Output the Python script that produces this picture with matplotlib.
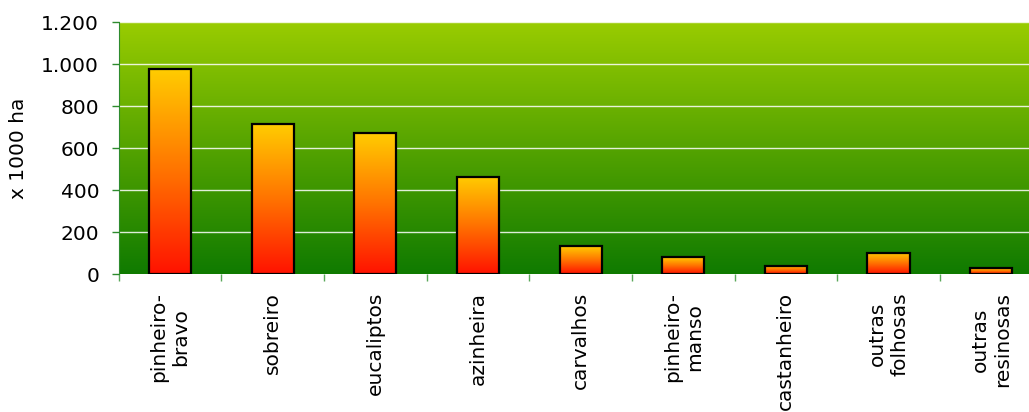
import numpy as np
import matplotlib
matplotlib.use("Agg")
import matplotlib.pyplot as plt
from matplotlib.colors import LinearSegmentedColormap

categories = ["pinheiro-\nbravo", "sobreiro", "eucaliptos", "azinheira", "carvalhos",
              "pinheiro-\nmanso", "castanheiro", "outras\nfolhosas", "outras\nresinosas"]
values = [976, 714, 671, 462, 133, 80, 40, 101, 27]
yticks = [0, 200, 400, 600, 800, 1000, 1200]
ytick_labels = ["0", "200", "400", "600", "800", "1.000", "1.200"]
ylabel = "x 1000 ha"

W, H = 1029, 412
fig = plt.figure(figsize=(W / 100, H / 100), dpi=100)
left, right, top, bottom = 118.6, 1042.5, 22, 274
ax = fig.add_axes([left / W, (H - bottom) / H, (right - left) / W, (bottom - top) / H])

n = len(categories)

# background gradient
bg = LinearSegmentedColormap.from_list("bg", [(0.06, 0.48, 0.0), (0.6, 0.8, 0.0)])
grad = np.linspace(0, 1, 256).reshape(-1, 1)
ax.imshow(grad, cmap=bg, origin="lower", aspect="auto",
          extent=(-0.5, n - 0.5, 0, 1200), zorder=0)

# grid
for yv in yticks[1:]:
    ax.axhline(yv, color="white", lw=1.0, alpha=0.85, zorder=1)

# bars with gradient
bc = LinearSegmentedColormap.from_list("bars", [(1.0, 0.07, 0.0), (1.0, 0.45, 0.0), (1.0, 0.8, 0.0)])
x = np.arange(n)
bw = 0.41
bars = ax.bar(x, values, width=bw, facecolor="none", edgecolor="black", linewidth=1.6, zorder=3)
for b in bars:
    x0, y0 = b.get_x(), b.get_y()
    im = ax.imshow(grad, cmap=bc, origin="lower", aspect="auto",
                   extent=(x0, x0 + b.get_width(), y0, y0 + b.get_height()), zorder=2)
    im.set_clip_path(b)
ax.set_xlim(-0.5, n - 0.5)
ax.set_ylim(0, 1200)

# spines
for s in ["top", "right"]:
    ax.spines[s].set_visible(False)
ax.spines["left"].set_color("#2e8b2e")
ax.spines["bottom"].set_visible(False)

fs = 14.5
ax.set_yticks(yticks)
ax.set_yticklabels(ytick_labels, fontsize=fs)
ax.tick_params(axis="y", length=5, width=1, color="#2e8b2e", pad=9)

ax.set_xticks(x)
ax.set_xticklabels(categories, rotation=90, fontsize=fs, va="top", ha="center",
                   multialignment="center")
ax.tick_params(axis="x", which="major", length=0, pad=13)
ax.set_xticks(np.arange(n + 1) - 0.5, minor=True)
ax.tick_params(axis="x", which="minor", length=5, width=1, color="#5aa85a")

fig.text(19 / W, 1 - 148 / H, ylabel, rotation=90, fontsize=fs, ha="center", va="center")

fig.savefig("out.png", dpi=100)
